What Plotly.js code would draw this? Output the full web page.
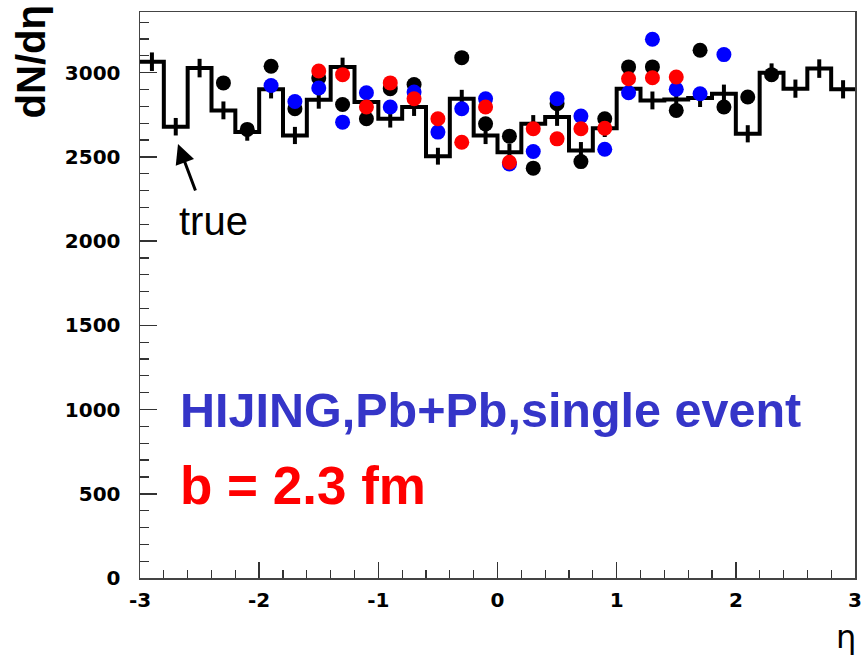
<!DOCTYPE html>
<html><head><meta charset="utf-8">
<script src="https://cdn.plot.ly/plotly-3.0.1.min.js"></script>
<style>html,body{margin:0;padding:0;background:#fff;} #chart{width:866px;height:656px;}</style>
</head><body><div id="chart"></div>
<script>
// Histogram ("true") bin edges and contents
const binEdges = [-3.0,-2.8,-2.6,-2.4,-2.2,-2.0,-1.8,-1.6,-1.4,-1.2,-1.0,-0.8,-0.6,-0.4,-0.2,0.0,
                  0.2,0.4,0.6,0.8,1.0,1.2,1.4,1.6,1.8,2.0,2.2,2.4,2.6,2.8,3.0];
const trueCounts = [3065,2679,3027,2776,2647,2901,2627,2839,3034,2825,2726,2796,2504,2845,2627,
                    2528,2696,2736,2538,2670,2905,2835,2841,2849,2875,2637,3000,2905,3024,2901];
const trueErrors = [55,52,55,53,51,54,51,53,55,53,52,53,50,53,51,
                    50,52,52,50,52,54,53,53,53,54,51,55,54,55,54];

// Reconstructed points
const etaPoints = [-2.3,-2.1,-1.9,-1.7,-1.5,-1.3,-1.1,-0.9,-0.7,-0.5,-0.3,-0.1,
                   0.1,0.3,0.5,0.7,0.9,1.1,1.3,1.5,1.7,1.9,2.1,2.3];
const blackSeries = [2939,2663,3038,2786,2968,2811,2726,2905,2929,null,3089,2696,
                     2623,2433,2815,2472,2726,3034,3034,2776,3133,2796,2855,2988];
const blueSeries  = [null,null,2924,2829,2909,2706,2881,2796,2885,2647,2786,2845,
                     2458,2532,2845,2742,2545,2881,3198,2901,2875,3107,null,null];
const redSeries   = [null,null,null,null,3010,2988,2796,2939,2845,2726,2587,2796,
                     2468,2667,2607,2667,2670,2964,2970,2974,null,null,null,null];

const xTickVals = [-3,-2,-1,0,1,2,3];
const xTickText = ['-3','-2','-1','0','1','2','3'];
const yTickVals = [0,500,1000,1500,2000,2500,3000];
const yTickText = ['0','500','1000','1500','2000','2500','3000'];

const stepY = trueCounts.concat([trueCounts[trueCounts.length-1]]);
const binCenters = trueCounts.map((v,i)=> (binEdges[i]+binEdges[i+1])/2);

const traces = [
  {x: binEdges, y: stepY, type:'scatter', mode:'lines', line:{shape:'hv', color:'#000', width:4}, hoverinfo:'skip'},
  {x: binCenters, y: trueCounts, type:'scatter', mode:'markers', marker:{size:0.1, color:'#000'},
   error_y:{type:'data', array:trueErrors, visible:true, thickness:4, width:0, color:'#000'}},
  {x: etaPoints, y: blackSeries, type:'scatter', mode:'markers', marker:{size:15, color:'#000'}},
  {x: etaPoints, y: blueSeries, type:'scatter', mode:'markers', marker:{size:15, color:'#0000ff'}},
  {x: etaPoints, y: redSeries, type:'scatter', mode:'markers', marker:{size:15, color:'#ff0000'}}
];

const tickFont = {family:'DejaVu Sans', size:20, color:'#000', weight:'bold'};
const layout = {
  width:866, height:656, showlegend:false,
  paper_bgcolor:'#fff', plot_bgcolor:'#fff',
  margin:{l:140, r:11, t:12, b:78},
  xaxis:{range:[-3,3], tickmode:'array', tickvals:xTickVals, ticktext:xTickText,
    ticks:'inside', ticklen:16, tickwidth:1.5, tickcolor:'#333',
    minor:{dtick:0.2, tick0:0, ticks:'inside', ticklen:8, tickwidth:1.2, tickcolor:'#333', showgrid:false},
    showline:true, linecolor:'#444', linewidth:1.5, mirror:true, zeroline:false, showgrid:false,
    tickfont:tickFont, ticklabelstandoff:3},
  yaxis:{range:[0,3360], tickmode:'array', tickvals:yTickVals, ticktext:yTickText,
    ticks:'inside', ticklen:17, tickwidth:1.5, tickcolor:'#333',
    minor:{dtick:100, tick0:0, ticks:'inside', ticklen:9, tickwidth:1.2, tickcolor:'#333', showgrid:false},
    showline:true, linecolor:'#444', linewidth:1.5, mirror:true, zeroline:false, showgrid:false,
    tickfont:tickFont, ticklabelstandoff:14},
  annotations:[
    {xref:'paper', yref:'paper', x:-0.153, y:0.912, xanchor:'center', yanchor:'middle', textangle:-90,
     text:'dN/dη', showarrow:false, font:{family:'Liberation Sans', size:40, color:'#000', weight:'bold'}},
    {xref:'paper', yref:'paper', x:0.987, y:-0.105, xanchor:'center', yanchor:'middle',
     text:'η', showarrow:false, font:{family:'DejaVu Sans', size:32, color:'#000'}},
    {xref:'paper', yref:'paper', x:0.053, y:0.297, xanchor:'left', yanchor:'middle',
     text:'HIJING,Pb+Pb,single event', showarrow:false, font:{family:'Liberation Sans', size:48.5, color:'#3535c8', weight:'bold'}},
    {xref:'paper', yref:'paper', x:0.053, y:0.164, xanchor:'left', yanchor:'middle',
     text:'b = 2.3 fm', showarrow:false, font:{family:'Liberation Sans', size:53, color:'#ff0000', weight:'bold'}},
    {xref:'paper', yref:'paper', x:0.052, y:0.631, xanchor:'left', yanchor:'middle',
     text:'true', showarrow:false, font:{family:'Liberation Sans', size:40, color:'#000'}},
    {xref:'x', yref:'y', axref:'x', ayref:'y', x:-2.681, y:2576, ax:-2.53, ay:2291,
     text:'', showarrow:true, arrowhead:2, arrowsize:1.3, arrowwidth:3, arrowcolor:'#000'}
  ]
};
Plotly.newPlot('chart', traces, layout, {staticPlot:true, displayModeBar:false});
</script></body></html>
